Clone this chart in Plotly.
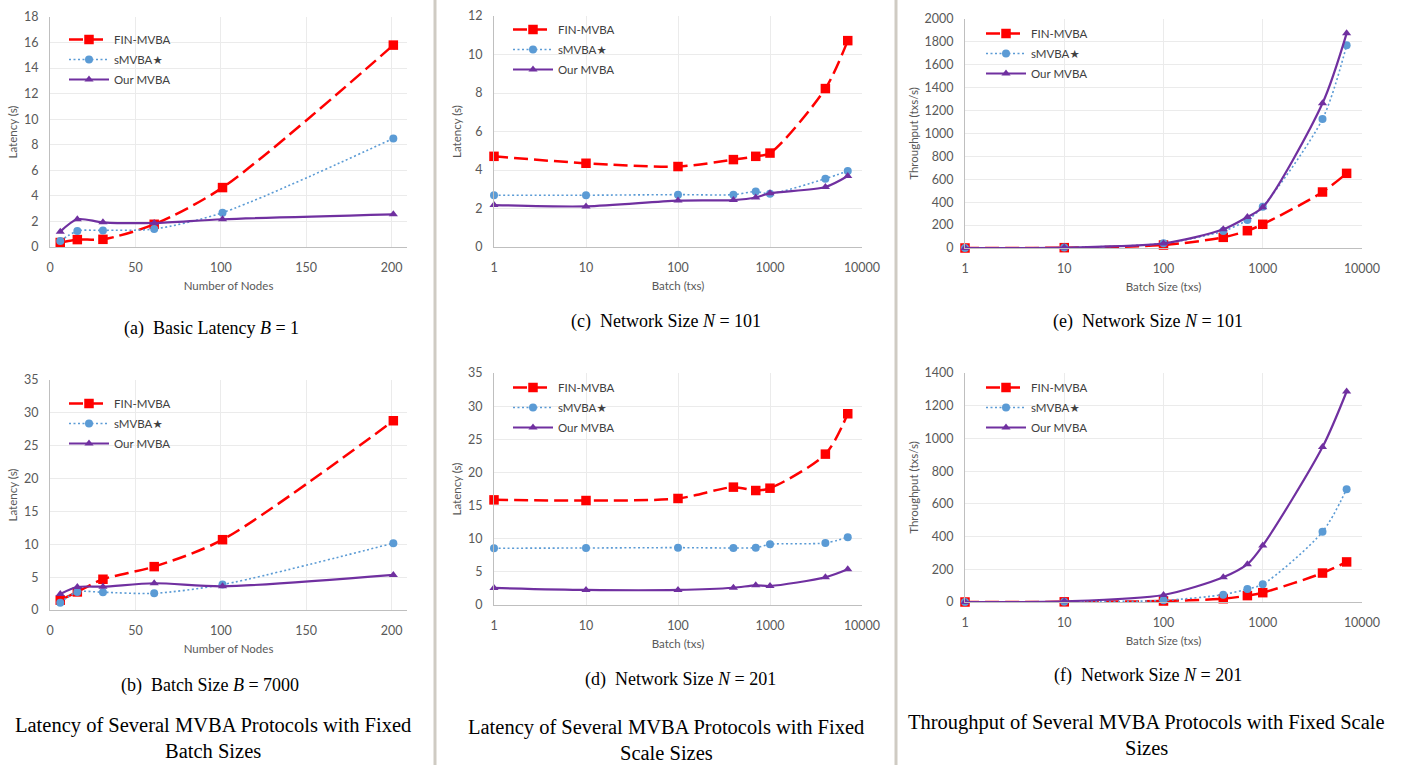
import plotly.graph_objects as go

W, H = 1406, 765

# ---------------- data ----------------
nodes = [6, 16, 31, 61, 101, 201]
batch = [1, 10, 100, 400, 700, 1000, 4000, 7000]

a_fin = [0.35, 0.58, 0.60, 1.78, 4.65, 15.8]
a_smv = [0.47, 1.25, 1.30, 1.41, 2.69, 8.5]
a_our = [1.20, 2.17, 1.93, 1.88, 2.17, 2.56]

b_fin = [1.5, 2.75, 4.68, 6.6, 10.7, 28.8]
b_smv = [1.12, 2.75, 2.7, 2.54, 3.87, 10.17]
b_our = [2.44, 3.5, 3.55, 4.07, 3.61, 5.34]

c_fin = [4.71, 4.35, 4.18, 4.54, 4.71, 4.88, 8.23, 10.72]
c_smv = [2.69, 2.69, 2.72, 2.72, 2.88, 2.77, 3.55, 3.95]
c_our = [2.18, 2.11, 2.41, 2.44, 2.57, 2.79, 3.12, 3.69]

d_fin = [15.86, 15.76, 16.07, 17.78, 17.27, 17.62, 22.76, 28.85]
d_smv = [8.56, 8.6, 8.65, 8.6, 8.65, 9.16, 9.36, 10.22]
d_our = [2.57, 2.27, 2.27, 2.6, 2.97, 2.87, 4.18, 5.39]

e_fin = [0, 3, 26, 93, 151, 207, 489, 652]
e_smv = [0, 4, 41, 148, 245, 361, 1127, 1770]
e_our = [0, 4, 40, 163, 271, 355, 1264, 1875]

f_fin = [0, 1, 6, 20, 39, 57, 177, 245]
f_smv = [0, 1, 10, 45, 80, 108, 429, 690]
f_our = [0, 4, 43, 151, 231, 345, 947, 1287]

names = ["FIN-MVBA", "sMVBA★", "Our MVBA"]
log_ticks = [1, 10, 100, 1000, 10000]

# ---------------- styles ----------------
RED, BLUE, PURPLE = "#FF0000", "#5B9BD5", "#7030A0"
styles = [
    dict(line=dict(color=RED, width=2.5, dash="14px,6px"),
         marker=dict(symbol="square", size=9.5, color=RED)),
    dict(line=dict(color=BLUE, width=1.6, dash="2px,2.5px"),
         marker=dict(symbol="circle", size=8, color=BLUE)),
    dict(line=dict(color=PURPLE, width=2.2),
         marker=dict(symbol="triangle-up", size=8, color=PURPLE)),
]

FONT = "Lato, 'DejaVu Sans', sans-serif"
SERIF = "'Liberation Serif', 'DejaVu Serif', serif"
TICKC = "#595959"

# pixel boxes: (left, right, top, bottom)
panels = [
    dict(box=(50, 407, 17, 247), x=nodes, ys=[a_fin, a_smv, a_our], log=False,
         xr=[0, 209], yr=[0, 18], dy=2, xt="Number of Nodes", yt="Latency (s)", leg=(64, 25)),
    dict(box=(50, 407, 380, 610), x=nodes, ys=[b_fin, b_smv, b_our], log=False,
         xr=[0, 209], yr=[0, 35], dy=5, xt="Number of Nodes", yt="Latency (s)", leg=(64, 389)),
    dict(box=(494, 862, 16, 247), x=batch, ys=[c_fin, c_smv, c_our], log=True,
         xr=[0, 4], yr=[0, 12], dy=2, xt="Batch (txs)", yt="Latency (s)", leg=(508, 15)),
    dict(box=(494, 862, 373, 605), x=batch, ys=[d_fin, d_smv, d_our], log=True,
         xr=[0, 4], yr=[0, 35], dy=5, xt="Batch (txs)", yt="Latency (s)", leg=(508, 373)),
    dict(box=(965, 1362, 19, 248), x=batch, ys=[e_fin, e_smv, e_our], log=True,
         xr=[0, 4], yr=[0, 2000], dy=200, xt="Batch Size (txs)", yt="Throughput (txs/s)", leg=(981, 19)),
    dict(box=(965, 1362, 373, 602), x=batch, ys=[f_fin, f_smv, f_our], log=True,
         xr=[0, 4], yr=[0, 1400], dy=200, xt="Batch Size (txs)", yt="Throughput (txs/s)", leg=(981, 373)),
]

fig = go.Figure()
layout = dict(width=W, height=H, margin=dict(l=0, r=0, t=0, b=0, autoexpand=False),
              paper_bgcolor="white", plot_bgcolor="white",
              font=dict(family=FONT, size=11, color="#404040"), showlegend=True)

annotations = []
for i, p in enumerate(panels):
    k = "" if i == 0 else str(i + 1)
    l, r, t, b = p["box"]
    xa = dict(domain=[l / W, r / W], anchor="y" + k, range=p["xr"], automargin=False,
              showline=True, linecolor="#BFBFBF", linewidth=1,
              showgrid=True, gridcolor="#EBEBEB", zeroline=False,
              ticks="", ticklabelstandoff=9,
              tickfont=dict(family=FONT, size=12.5, color=TICKC),
              title=dict(text=p["xt"], font=dict(family=FONT, size=11.5, color=TICKC), standoff=7))
    if p["log"]:
        xa.update(type="log", tickvals=log_ticks, ticktext=[str(v) for v in log_ticks])
    else:
        xa.update(tickmode="linear", tick0=0, dtick=50)
    ya = dict(domain=[1 - b / H, 1 - t / H], anchor="x" + k, range=p["yr"], automargin=False,
              showline=True, linecolor="#BFBFBF", linewidth=1,
              showgrid=True, gridcolor="#EBEBEB", zeroline=False,
              tickmode="linear", tick0=0, dtick=p["dy"], ticks="", ticklabelstandoff=8,
              tickfont=dict(family=FONT, size=12.5, color=TICKC),
              title=dict(text=p["yt"], font=dict(family=FONT, size=11.5, color=TICKC), standoff=3))
    layout["xaxis" + k] = xa
    layout["yaxis" + k] = ya
    legname = "legend" + k
    lx, ly = p["leg"]
    layout[legname] = dict(x=lx / W, y=1 - ly / H, xanchor="left", yanchor="top",
                           bgcolor="rgba(255,255,255,0)", borderwidth=0,
                           font=dict(family=FONT, size=11.5, color="#404040"),
                           itemwidth=40, tracegroupgap=1)
    for j, (name, ys) in enumerate(zip(names, p["ys"])):
        st = styles[j]
        fig.add_trace(go.Scatter(
            x=p["x"], y=ys, name=name, mode="lines+markers",
            line=dict(shape="spline", smoothing=0.8, **st["line"]),
            marker=st["marker"], xaxis="x" + k, yaxis="y" + k,
            legend=legname, legendgroup=f"g{i}_{j}", cliponaxis=False,
            showlegend=True))

captions = [
    (212, 328, "(a)  Basic Latency <i>B</i> = 1"),
    (210, 685, "(b)  Batch Size <i>B</i> = 7000"),
    (666, 321, "(c)  Network Size <i>N</i> = 101"),
    (680, 679, "(d)  Network Size <i>N</i> = 201"),
    (1148, 321, "(e)  Network Size <i>N</i> = 101"),
    (1148, 675, "(f)  Network Size <i>N</i> = 201"),
]
for x, y, txt in captions:
    annotations.append(dict(x=x / W, y=1 - y / H, xref="paper", yref="paper",
                            text=txt, showarrow=False, xanchor="center", yanchor="middle",
                            font=dict(family=SERIF, size=18, color="#000000")))

titles = [
    (213, 725, "Latency of Several MVBA Protocols with Fixed"),
    (213, 751, "Batch Sizes"),
    (666, 727, "Latency of Several MVBA Protocols with Fixed"),
    (666, 753, "Scale Sizes"),
    (1146, 722, "Throughput of Several MVBA Protocols with Fixed Scale"),
    (1146, 748, "Sizes"),
]
for x, y, txt in titles:
    annotations.append(dict(x=x / W, y=1 - y / H, xref="paper", yref="paper",
                            text=txt, showarrow=False, xanchor="center", yanchor="middle",
                            font=dict(family=SERIF, size=20.5, color="#000000")))

layout["annotations"] = annotations
layout["shapes"] = [
    dict(type="line", xref="paper", yref="paper", x0=435 / W, x1=435 / W, y0=0, y1=1,
         line=dict(color="#CFCBC3", width=3)),
    dict(type="line", xref="paper", yref="paper", x0=896 / W, x1=896 / W, y0=0, y1=1,
         line=dict(color="#CFCBC3", width=3)),
]
fig.update_layout(**layout)
fig.write_html("out.html", config={"displayModeBar": False},
               post_script="document.body.style.margin='0';document.body.style.overflow='hidden';")
